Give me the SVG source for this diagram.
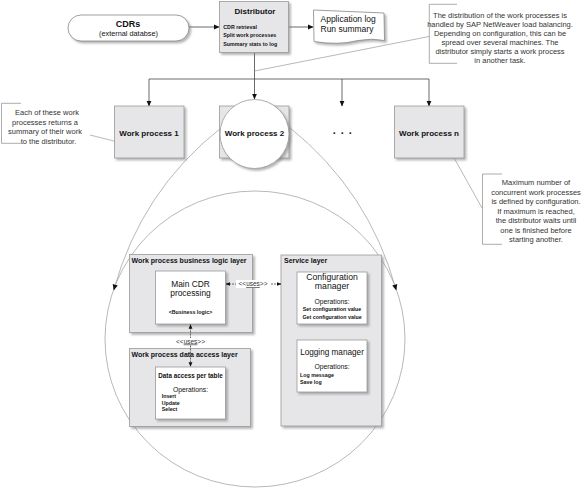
<svg xmlns="http://www.w3.org/2000/svg" width="587" height="489" viewBox="0 0 587 489">
<defs>
<filter id="sh" x="-10%" y="-10%" width="130%" height="130%"><feDropShadow dx="2" dy="2" stdDeviation="0.8" flood-color="#7a7a7a" flood-opacity="0.55"/></filter>
<marker id="ah" markerUnits="userSpaceOnUse" markerWidth="6" markerHeight="6" refX="5.5" refY="3" orient="auto-start-reverse" viewBox="0 0 6 6"><path d="M0,0.4 L6,3 L0,5.6 Z" fill="#111"/></marker>
<marker id="as" markerUnits="userSpaceOnUse" markerWidth="4.5" markerHeight="4.5" refX="4.2" refY="2.25" orient="auto-start-reverse" viewBox="0 0 4.5 4.5"><path d="M0,0.3 L4.5,2.25 L0,4.2 Z" fill="#111"/></marker>
</defs>
<style>
text{font-family:"Liberation Sans",Arial,sans-serif;fill:#111}
.box{fill:#e6e6e9;stroke:#9a9a9a;stroke-width:0.8}
.wbox{fill:#fff;stroke:#9a9a9a;stroke-width:0.8}
.conn{fill:none;stroke:#444;stroke-width:0.8}
.thin{fill:none;stroke:#9a9a9a;stroke-width:0.7}
.brk{fill:none;stroke:#888;stroke-width:0.7}
.note{font-size:7.5px;fill:#333;text-anchor:middle}
.b{font-weight:bold}
.c{text-anchor:middle}
.tiny{font-size:5.3px;font-weight:bold}
.wp{font-size:8px;font-weight:bold;text-anchor:middle}
.lay{font-size:7px;font-weight:bold}
.ops{font-size:6.8px;text-anchor:middle}
.uses{font-size:6.5px;fill:#333;text-anchor:middle}
</style>

<ellipse cx="255" cy="339" rx="150" ry="148" class="thin"/>

<g id="connectors">
<line x1="189" y1="27" x2="219" y2="27" class="conn" marker-end="url(#ah)"/>
<line x1="289" y1="27" x2="313" y2="27" class="conn" marker-end="url(#ah)"/>
<line x1="254.5" y1="53" x2="254.5" y2="99" class="conn" marker-end="url(#ah)"/>
<line x1="149" y1="79" x2="429" y2="79" class="conn"/>
<line x1="149" y1="79" x2="149" y2="106" class="conn" marker-end="url(#ah)"/>
<line x1="342" y1="79" x2="342" y2="106" class="conn" marker-end="url(#ah)"/>
<line x1="429" y1="79" x2="429" y2="106" class="conn" marker-end="url(#ah)"/>
<line x1="254.5" y1="71" x2="429" y2="36.5" class="thin"/>
<line x1="90" y1="135" x2="122" y2="143" class="thin"/>
<line x1="448" y1="147" x2="482" y2="208" class="thin"/>
<path d="M221,128 Q141,191 113.8,290" class="thin" marker-end="url(#ah)"/>
<path d="M289,127 Q369,191 396.2,290" class="thin" marker-end="url(#ah)"/>
</g>

<g id="cdrs">
<rect x="68" y="15" width="121" height="26" rx="13" ry="13" fill="#fff" stroke="#888" stroke-width="0.8" filter="url(#sh)"/>
<text x="128" y="26.5" class="c b" font-size="9">CDRs</text>
<text x="128.5" y="35.5" class="c" font-size="7.3" fill="#444">(external databse)</text>
</g>

<g id="distributor">
<rect x="219.5" y="1.5" width="69" height="51" class="box" filter="url(#sh)"/>
<text x="255" y="14" class="c b" font-size="8">Distributor</text>
<text x="223.3" y="28.5" class="tiny">CDR retrieval</text>
<text x="223.3" y="37" class="tiny">Split work processes</text>
<text x="223.3" y="45.5" class="tiny">Summary stats to log</text>
</g>

<g id="applog">
<path d="M313.5,10 L384,13 L384.5,40.5 Q372,38 358,40.5 Q338,45.5 314,41.5 Z" fill="#fff" stroke="#888" stroke-width="0.8" filter="url(#sh)"/>
<text x="320.5" y="22" font-size="8.5">Application log</text>
<text x="320.5" y="32" font-size="8.5">Run summary</text>
</g>

<g id="note-distribution">
<path d="M457,4.3 L429.3,4.3 L429.3,63.3 L457,63.3" class="brk"/>
<text class="note"><tspan x="500" y="18">The distribution of the work processes is</tspan><tspan x="500" y="27.3">handled by SAP NetWeaver load balancing.</tspan><tspan x="500" y="36.3">Depending on configuration, this can be</tspan><tspan x="500" y="45.3">spread over several machines. The</tspan><tspan x="500" y="54">distributor simply starts a work process</tspan><tspan x="500" y="62.7">in another task.</tspan></text>
</g>

<g id="note-summary">
<path d="M21,103.3 L1.5,103.3 L1.5,143.3 L21,143.3" class="brk"/>
<text class="note"><tspan x="47" y="115">Each of these work</tspan><tspan x="45" y="124.5">processes returns a</tspan><tspan x="45" y="134">summary of their work</tspan><tspan x="48.5" y="143.5">to the distributor.</tspan></text>
</g>

<g id="note-maximum">
<path d="M502,174 L482.5,174 L482.5,244.3 L502,244.3" class="brk"/>
<text class="note"><tspan x="536" y="185.3">Maximum number of</tspan><tspan x="536" y="194.8">concurrent work processes</tspan><tspan x="536" y="204.2">is defined by configuration.</tspan><tspan x="536" y="213.6">If maximum is reached,</tspan><tspan x="536" y="223">the distributor waits until</tspan><tspan x="536" y="232.5">one is finished before</tspan><tspan x="536" y="241.8">starting another.</tspan></text>
</g>

<g id="wp1">
<rect x="114.5" y="106" width="69.5" height="52" class="box" filter="url(#sh)"/>
<text x="149" y="136" class="wp">Work process 1</text>
</g>

<g id="wp2">
<rect x="219.5" y="106" width="69.5" height="52" class="box" filter="url(#sh)"/>
<circle cx="254.5" cy="134" r="34.5" fill="#fff" stroke="#9a9a9a" stroke-width="0.8" filter="url(#sh)"/>
<text x="254.5" y="136" class="wp">Work process 2</text>
</g>

<g id="dots">
<text x="334.3 342.3 350.3" y="134" class="c b" font-size="11">...</text>
</g>

<g id="wpn">
<rect x="394.5" y="106" width="69.5" height="52" class="box" filter="url(#sh)"/>
<text x="429" y="136" class="wp">Work process n</text>
</g>

<g id="business-layer">
<rect x="129.5" y="254.5" width="123" height="78" class="box" filter="url(#sh)"/>
<text x="131.5" y="262.5" class="lay">Work process business logic layer</text>
</g>

<g id="main-cdr">
<rect x="155.5" y="271" width="70" height="53" class="wbox" filter="url(#sh)"/>
<text x="190.5" y="286.5" class="c" font-size="8.4">Main CDR</text>
<text x="190.5" y="295.5" class="c" font-size="8.4">processing</text>
<text x="190.5" y="313.5" class="tiny c">&lt;Business logic&gt;</text>
</g>

<g id="data-layer">
<rect x="129.5" y="348.5" width="121" height="78" class="box" filter="url(#sh)"/>
<text x="131.5" y="357" class="lay">Work process data access layer</text>
</g>

<g id="data-access">
<rect x="155.5" y="367" width="70" height="52" class="wbox" filter="url(#sh)"/>
<text x="190.5" y="377.5" class="c b" font-size="6.3">Data access per table</text>
<text x="190.5" y="391.5" class="ops">Operations:</text>
<text x="161.7" y="398" class="tiny">Insert</text>
<text x="161.7" y="404.7" class="tiny">Update</text>
<text x="161.7" y="411.3" class="tiny">Select</text>
</g>

<g id="service-layer">
<rect x="281" y="255" width="100.5" height="171" class="box" filter="url(#sh)"/>
<text x="284" y="263" class="lay">Service layer</text>
</g>

<g id="config-manager">
<rect x="297" y="272" width="70" height="52" class="wbox" filter="url(#sh)"/>
<text x="332" y="280.3" class="c" font-size="8.7">Configuration</text>
<text x="332" y="288.8" class="c" font-size="8.7">manager</text>
<text x="332" y="303.5" class="ops">Operations:</text>
<text x="332" y="310.7" class="tiny c">Set configuration value</text>
<text x="332" y="319" class="tiny c">Get configuration value</text>
</g>

<g id="logging-manager">
<rect x="297" y="340" width="70" height="52" class="wbox" filter="url(#sh)"/>
<text x="332" y="354.7" class="c" font-size="8.2">Logging manager</text>
<text x="332" y="368.5" class="ops">Operations:</text>
<text x="300" y="377.2" class="tiny">Log message</text>
<text x="300" y="383.8" class="tiny">Save log</text>
</g>

<g id="uses-connectors">
<line x1="226" y1="284" x2="281" y2="284" class="conn" stroke-dasharray="2,1" marker-start="url(#as)" marker-end="url(#as)"/>
<rect x="236" y="280" width="34" height="8" fill="#fff"/>
<text x="253" y="286.3" class="uses">&lt;&lt;<tspan text-decoration="underline">uses</tspan>&gt;&gt;</text>
<line x1="190.5" y1="324.5" x2="190.5" y2="366.5" class="conn" stroke-dasharray="2,1" marker-start="url(#as)" marker-end="url(#as)"/>
<rect x="173" y="338" width="35" height="7" fill="#fff"/>
<text x="190.5" y="343.5" class="uses">&lt;&lt;<tspan text-decoration="underline">uses</tspan>&gt;&gt;</text>
</g>
</svg>
